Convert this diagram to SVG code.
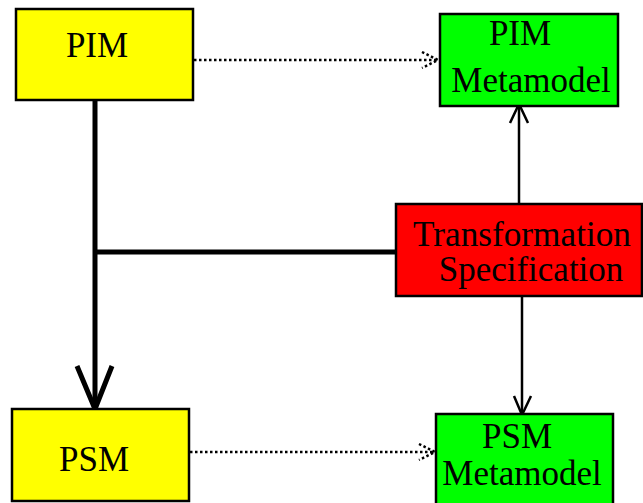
<svg xmlns="http://www.w3.org/2000/svg" width="643" height="503" viewBox="0 0 643 503">
<style>
.box{stroke:#000;stroke-width:2.5}
.t{font-family:"Liberation Serif","Times New Roman",serif;font-size:35px;fill:#000;text-anchor:middle}
.dot{stroke:#000;stroke-width:2.5;stroke-dasharray:2.5 2.5;fill:none}
.ln{stroke:#000;fill:none}
</style>
<rect width="643" height="503" fill="#fff"/>
<g id="connectors">
<path class="ln" d="M95 100 V409" stroke-width="5"/>
<path class="ln" d="M77 366 L95 409 L112 366" stroke-width="5"/>
<path class="ln" d="M95 252 H395" stroke-width="5"/>
<path class="ln" d="M519 203 V104" stroke-width="2.5"/>
<path class="ln" d="M510 123 L519 104 L528 123" stroke-width="2.5"/>
<path class="ln" d="M522 297 V415" stroke-width="2.5"/>
<path class="ln" d="M514 396 L522 415 L531 396" stroke-width="2.5"/>
<path class="dot" d="M194 60 H438"/>
<path class="dot" d="M422 52 L438 60 L422 68"/>
<path class="dot" d="M190 452 H435"/>
<path class="dot" d="M419 444 L435 452 L419 460"/>
</g>
<g id="pim">
<rect class="box" x="16" y="9" width="177" height="91" fill="#ffff00"/>
<text class="t" x="97" y="57">PIM</text>
</g>
<g id="pim-metamodel">
<rect class="box" x="440" y="14" width="178" height="92" fill="#00ff00"/>
<text class="t" x="520" y="45">PIM</text>
<text class="t" x="531" y="92">Metamodel</text>
</g>
<g id="transformation">
<rect class="box" x="396" y="204" width="246" height="92" fill="#ff0000"/>
<text class="t" x="522" y="246" textLength="218" lengthAdjust="spacingAndGlyphs">Transformation</text>
<text class="t" x="531" y="281">Specification</text>
</g>
<g id="psm">
<rect class="box" x="12" y="409" width="177" height="92" fill="#ffff00"/>
<text class="t" x="94" y="471">PSM</text>
</g>
<g id="psm-metamodel">
<rect class="box" x="436" y="414" width="177" height="92" fill="#00ff00"/>
<text class="t" x="517" y="448">PSM</text>
<text class="t" x="522" y="485">Metamodel</text>
</g>
</svg>
